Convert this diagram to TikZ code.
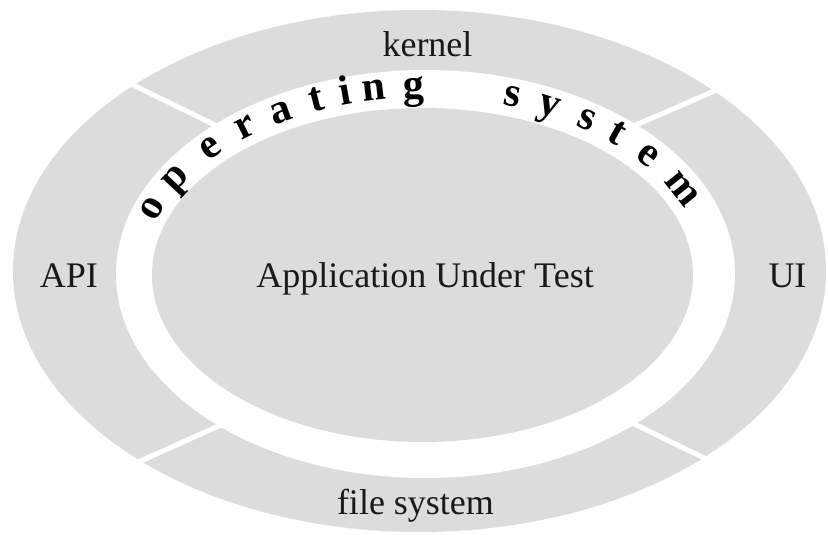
\documentclass[tikz,border=0pt]{standalone}
\usepackage{fontspec}
\setmainfont{Liberation Serif}
\begin{document}
\begin{tikzpicture}[x=1pt,y=1pt]
  \definecolor{ringgrey}{RGB}{220,220,220}
  \definecolor{ink}{RGB}{25,25,25}
  \tikzset{
    label/.style={font=\fontsize{36}{40}\selectfont, text=ink, anchor=base, inner sep=0pt},
    arcletter/.style={font=\fontsize{42}{46}\selectfont\bfseries, text=black, anchor=base, inner sep=0pt},
    divider/.style={draw=white, line width=5pt}
  }
  \useasboundingbox (-423,-261) rectangle (405,274);
  \fill[white] (-423,-261) rectangle (405,274);

  % outer ring, white gap, inner core
  \fill[ringgrey] (-3.5,3) ellipse [x radius=406.5, y radius=261];
  \fill[white] (2.5,0) ellipse [x radius=309.5, y radius=204];
  \fill[ringgrey] (-0.5,-1) ellipse [x radius=270.5, y radius=167];

  % four cuts splitting the outer ring
  \draw[divider] (-200,145) -- (-300,194);
  \draw[divider] (205,145.5) -- (310,191);
  \draw[divider] (-200,-150) -- (-300,-195);
  \draw[divider] (205,-147) -- (310,-198);

  % ring labels
  \node[label] (kernel) at (4.5,217) {kernel};
  \node[label] (api) at (-354,-14) {API};
  \node[label] (ui) at (364.5,-14) {UI};
  \node[label] (fs) at (-7.5,-241) {file system};
  \node[label] (aut) at (2,-14) {Application Under Test};

  % "operating system" set letter by letter along the white gap
  \foreach \ch/\t [count=\i] in {o/160,p/149.5,e/138,r/128.5,a/120,t/112,i/106,n/100,g/92,
                                  s/72,y/64,s/55.5,t/48,e/39,m/26.5}
    \node[arcletter, rotate={atan2(-176*cos(\t),280*sin(\t))}] (os\i)
      at ({1+280*cos(\t)},{176*sin(\t)}) {\ch};
\end{tikzpicture}
\end{document}
